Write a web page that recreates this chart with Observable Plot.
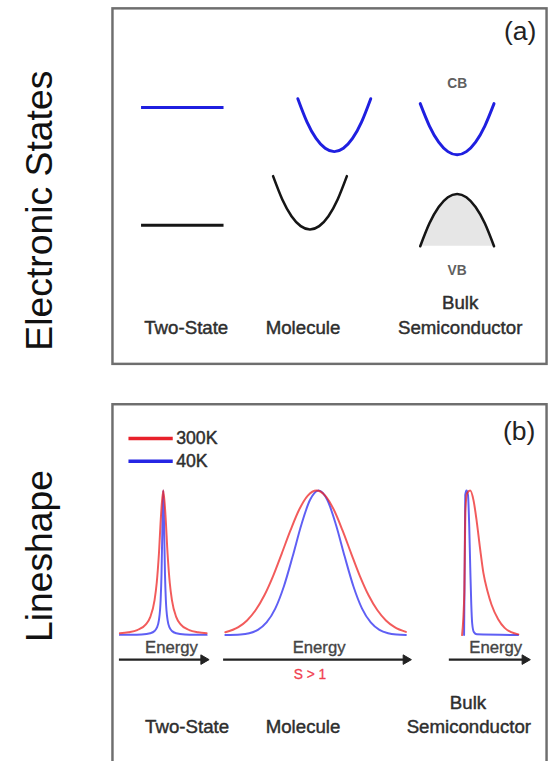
<!DOCTYPE html>
<html><head><meta charset="utf-8">
<script src="https://cdn.jsdelivr.net/npm/d3@7"></script>
<script src="https://cdn.jsdelivr.net/npm/@observablehq/plot@0.6"></script>
<style>
html,body{margin:0;padding:0;background:#fff;overflow:hidden;width:550px;height:761px;}
#chart{position:relative;width:550px;height:761px;overflow:hidden;}
#chart svg{display:block;position:absolute;left:0;}
</style></head><body><div id="chart"></div>
<script>
// ---------- Panel (a): electronic states (configuration coordinate q, energy e; 0-100 units) ----------
const systems = ["Two-State", "Molecule", "Bulk", "Semiconductor"];
const systemLabelQ = [17.0, 43.9, 80.1, 80.1];
const systemLabelE = [10.2, 10.2, 17.1, 10.2];

const twoStateLevels = ["excited", "ground"];
const twoStateLevelE = [72.1, 39.0];
const twoStateSpanQ = [6.7, 25.7];

const bandNames = ["Molecule excited", "Molecule ground", "CB", "VB"];
const bandCenterQ = [51.1, 45.5, 79.4, 79.4];
const bandEdgeE = [59.7, 37.8, 58.8, 47.8];
const bandHalfWidth = [8.4, 8.5, 8.5, 8.5];
const bandDepth = [14.9, 15.0, 14.4, 14.7];
const bandCurvature = [1, 1, 1, -1];
const parabolaT = [-1, -0.75, -0.5, -0.25, 0, 0.25, 0.5, 0.75, 1];
const parabolaH = [1, 0.5625, 0.25, 0.0625, 0, 0.0625, 0.25, 0.5625, 1];
const bandTags = ["CB", "VB"];
const bandTagQ = [79.4, 79.4];
const bandTagE = [78.7, 26.2];

// ---------- Panel (b): lineshapes (energy u, normalised intensity I) ----------
const temperatures = ["300K", "40K"];
const legendI = [1.36, 1.203];
const legendSpan = [3.8, 14.0];

const twoState300K_E = [1.7, 3.7, 5.7, 7.7, 8.7, 9.7, 10.2, 10.7, 11.2, 11.7, 12.2, 12.7, 13.2, 13.7, 14.7, 15.7, 17.7, 19.7, 21.7];
const twoState300K_I = [0.0126, 0.0196, 0.0343, 0.074, 0.124, 0.242, 0.362, 0.561, 0.836, 1, 0.836, 0.561, 0.362, 0.242, 0.124, 0.074, 0.0343, 0.0196, 0.0126];
const twoState40K_E = [1.7, 3.7, 6.7, 8.7, 9.7, 10.2, 10.7, 11.1, 11.3, 11.5, 11.7, 11.9, 12.1, 12.3, 12.7, 13.2, 13.7, 14.7, 16.7, 19.7, 21.7];
const twoState40K_I = [0.0012, 0.0018, 0.0046, 0.0127, 0.028, 0.049, 0.104, 0.243, 0.42, 0.743, 1, 0.743, 0.42, 0.243, 0.104, 0.049, 0.028, 0.0127, 0.0046, 0.0018, 0.0012];

const molecule300K_E = [26, 29, 31, 33, 35, 37, 39, 41, 43, 45, 47, 49, 51, 53, 55, 57, 59, 61, 63, 65, 67.6];
const molecule300K_I = [0.019, 0.0549, 0.101, 0.173, 0.275, 0.408, 0.564, 0.724, 0.867, 0.965, 1, 0.965, 0.867, 0.724, 0.564, 0.408, 0.275, 0.173, 0.101, 0.0549, 0.022];
const molecule40K_E = [26, 29.5, 31.5, 33.5, 35.5, 37.5, 39.5, 41.5, 43.5, 45.5, 47.5, 49.5, 51.5, 53.5, 55.5, 57.5, 59.5, 61.5, 63.5, 65.5, 67.6];
const molecule40K_I = [0.0004, 0.004, 0.013, 0.036, 0.087, 0.183, 0.338, 0.543, 0.762, 0.934, 1, 0.934, 0.762, 0.543, 0.338, 0.183, 0.087, 0.036, 0.013, 0.004, 0.001];

const bulk300K_E = [80.54, 81.06, 81.29, 81.67, 82.42, 83.19, 83.94, 84.68, 85.45, 86.43, 87.33, 88.85, 90.34, 91.86, 93.51];
const bulk300K_I = [0, 0.3, 0.85, 0.98, 1.0, 0.93, 0.78, 0.6, 0.43, 0.3, 0.21, 0.11, 0.05, 0.02, 0.005];
const bulk40K_E = [81.0, 81.15, 81.27, 81.56, 81.9, 82.19, 82.42, 82.65, 82.87, 83.26, 83.94, 93.44];
const bulk40K_I = [0, 0.5, 0.97, 1, 0.97, 0.75, 0.47, 0.22, 0.08, 0.02, 0.005, 0];

const energyArrowStart = [1.6, 25.6, 77.6];
const energyArrowEnd = [21.0, 67.6, 95.0];
const energyLabelU = [13.6, 47.6, 88.3];
const lineshapeLabelU = [17.2, 43.9, 81.9, 82.1];
const lineshapeLabelI = [-0.639, -0.639, -0.469, -0.639];

// ---------- styles ----------
const FONT = "Liberation Sans, Arial, Helvetica, sans-serif";
const BLUE = "#1f1fe0", BLACK = "#151515";
const RED2 = "#ee2424", BLUE2 = "#2a2af0";
const TXT = "#2e2e2e";

// ---------- build rows ----------
const bandRows = [];
bandNames.forEach((b, i) => parabolaT.forEach((t, j) => bandRows.push({
  band: b, q: bandCenterQ[i] + t * bandHalfWidth[i], e: bandEdgeE[i] + bandCurvature[i] * parabolaH[j] * bandDepth[i]
})));
const upperBands = bandRows.filter(r => r.band === "Molecule excited" || r.band === "CB");
const lowerBands = bandRows.filter(r => r.band === "Molecule ground" || r.band === "VB");
const vbRows = bandRows.filter(r => r.band === "VB");
const vbBase = bandEdgeE[3] - bandDepth[3];
const levelRows = twoStateLevels.map((l, i) => ({level: l, e: twoStateLevelE[i]}));
const sysRows = systems.map((s, i) => ({s, q: systemLabelQ[i], e: systemLabelE[i]}));
const tagRows = bandTags.map((s, i) => ({s, q: bandTagQ[i], e: bandTagE[i]}));

const zip = (sys, t, E, I) => E.map((u, k) => ({sys, t, u, I: I[k]}));
const rows300 = [
  ...zip("Two-State", "300K", twoState300K_E, twoState300K_I),
  ...zip("Molecule", "300K", molecule300K_E, molecule300K_I),
  ...zip("Bulk", "300K", bulk300K_E, bulk300K_I)];
const rows40 = [
  ...zip("Two-State", "40K", twoState40K_E, twoState40K_I),
  ...zip("Molecule", "40K", molecule40K_E, molecule40K_I),
  ...zip("Bulk", "40K", bulk40K_E, bulk40K_I)];
const arrowRows = energyArrowStart.map((a, i) => ({a, b: energyArrowEnd[i]}));
const energyRows = energyLabelU.map(u => ({u}));
const lsLabelRows = systems.map((s, i) => ({s, u: lineshapeLabelU[i], I: lineshapeLabelI[i]}));
const legendRows = temperatures.map((t, i) => ({t, I: legendI[i]}));

const bold = {stroke: TXT, strokeWidth: 0.45};

// ---------- Panel (a) ----------
const plotA = Plot.plot({
  width: 560, height: 380,
  marginLeft: 114, marginRight: 4, marginTop: 8, marginBottom: 10,
  x: {domain: [0, 100], axis: null},
  y: {domain: [0, 100], axis: null},
  style: {fontFamily: FONT, background: "transparent", overflow: "visible"},
  marks: [
    Plot.frame({stroke: "#6e6e6e", strokeWidth: 2.5}),
    Plot.areaY(vbRows, {x: "q", y1: vbBase, y2: "e", fill: "#e6e6e6", curve: "natural"}),
    Plot.ruleY(levelRows.filter(d => d.level === "excited"), {y: "e", x1: twoStateSpanQ[0], x2: twoStateSpanQ[1], stroke: BLUE, strokeWidth: 3}),
    Plot.ruleY(levelRows.filter(d => d.level === "ground"), {y: "e", x1: twoStateSpanQ[0], x2: twoStateSpanQ[1], stroke: BLACK, strokeWidth: 3}),
    Plot.line(upperBands, {x: "q", y: "e", z: "band", stroke: BLUE, strokeWidth: 3, curve: "natural"}),
    Plot.line(lowerBands, {x: "q", y: "e", z: "band", stroke: BLACK, strokeWidth: 2.6, curve: "natural"}),
    Plot.text(tagRows, {x: "q", y: "e", text: "s", fontSize: 14, fontWeight: "bold", fill: "#606060"}),
    Plot.text(sysRows, {x: "q", y: "e", text: "s", fontSize: 19, fill: TXT, ...bold}),
    Plot.text(["(a)"], {x: 93.9, y: 93.4, text: d => d, fontSize: 27, fill: "#222"}),
    Plot.text(["Electronic States"], {frameAnchor: "left", textAnchor: "middle", lineAnchor: "middle", dx: -74, dy: 25, rotate: -90, text: d => d, fontSize: 38, fill: "#111"})
  ]
});
plotA.style.top = "0px";

// ---------- Panel (b) ----------
const plotB = Plot.plot({
  width: 560, height: 380,
  marginLeft: 114, marginRight: 4, marginTop: 14, marginBottom: 0,
  x: {domain: [0, 100], axis: null},
  y: {domain: [-0.890, 1.597], axis: null},
  style: {fontFamily: FONT, background: "transparent", overflow: "visible"},
  marks: [
    Plot.frame({stroke: "#6e6e6e", strokeWidth: 2.5}),
    Plot.line(rows40, {x: "u", y: "I", z: "sys", stroke: BLUE2, strokeOpacity: 0.75, strokeWidth: 2, curve: "monotone-x"}),
    Plot.line(rows300, {x: "u", y: "I", z: "sys", stroke: RED2, strokeOpacity: 0.75, strokeWidth: 2, curve: "monotone-x"}),
    Plot.ruleY(legendRows.filter(d => d.t === "300K"), {y: "I", x1: legendSpan[0], x2: legendSpan[1], stroke: "#e8202a", strokeWidth: 3.5}),
    Plot.ruleY(legendRows.filter(d => d.t === "40K"), {y: "I", x1: legendSpan[0], x2: legendSpan[1], stroke: "#2626e4", strokeWidth: 3.5}),
    Plot.text(legendRows, {x: legendSpan[1], y: "I", text: "t", dx: 3, textAnchor: "start", fontSize: 18, fill: TXT, letterSpacing: "-0.5px", ...bold}),
    Plot.ruleY(arrowRows, {y: -0.170, x1: "a", x2: "b", stroke: "#222", strokeWidth: 2.5}),
    Plot.dot(arrowRows, {x: "b", y: -0.170, symbol: "triangle", rotate: 90, r: 3.6, fill: "#222", stroke: "#222", strokeWidth: 1}),
    Plot.text(energyRows, {x: "u", y: -0.088, text: () => "Energy", fontSize: 17, fill: "#444", stroke: "#444", strokeWidth: 0.35}),
    Plot.text(["S > 1"], {x: 45.5, y: -0.272, text: d => d, fontSize: 14, fill: "#f04050", stroke: "#f04050", strokeWidth: 0.3}),
    Plot.text(lsLabelRows, {x: "u", y: "I", text: "s", fontSize: 19, fill: TXT, ...bold}),
    Plot.text(["(b)"], {x: 93.7, y: 1.407, text: d => d, fontSize: 27, fill: "#222"}),
    Plot.text(["Lineshape"], {frameAnchor: "left", textAnchor: "middle", lineAnchor: "middle", dx: -74, dy: -28.5, rotate: -90, text: d => d, fontSize: 38, fill: "#111"})
  ]
});
plotB.style.top = "390px";

const chart = document.getElementById("chart");
chart.appendChild(plotA);
chart.appendChild(plotB);
</script></body></html>
